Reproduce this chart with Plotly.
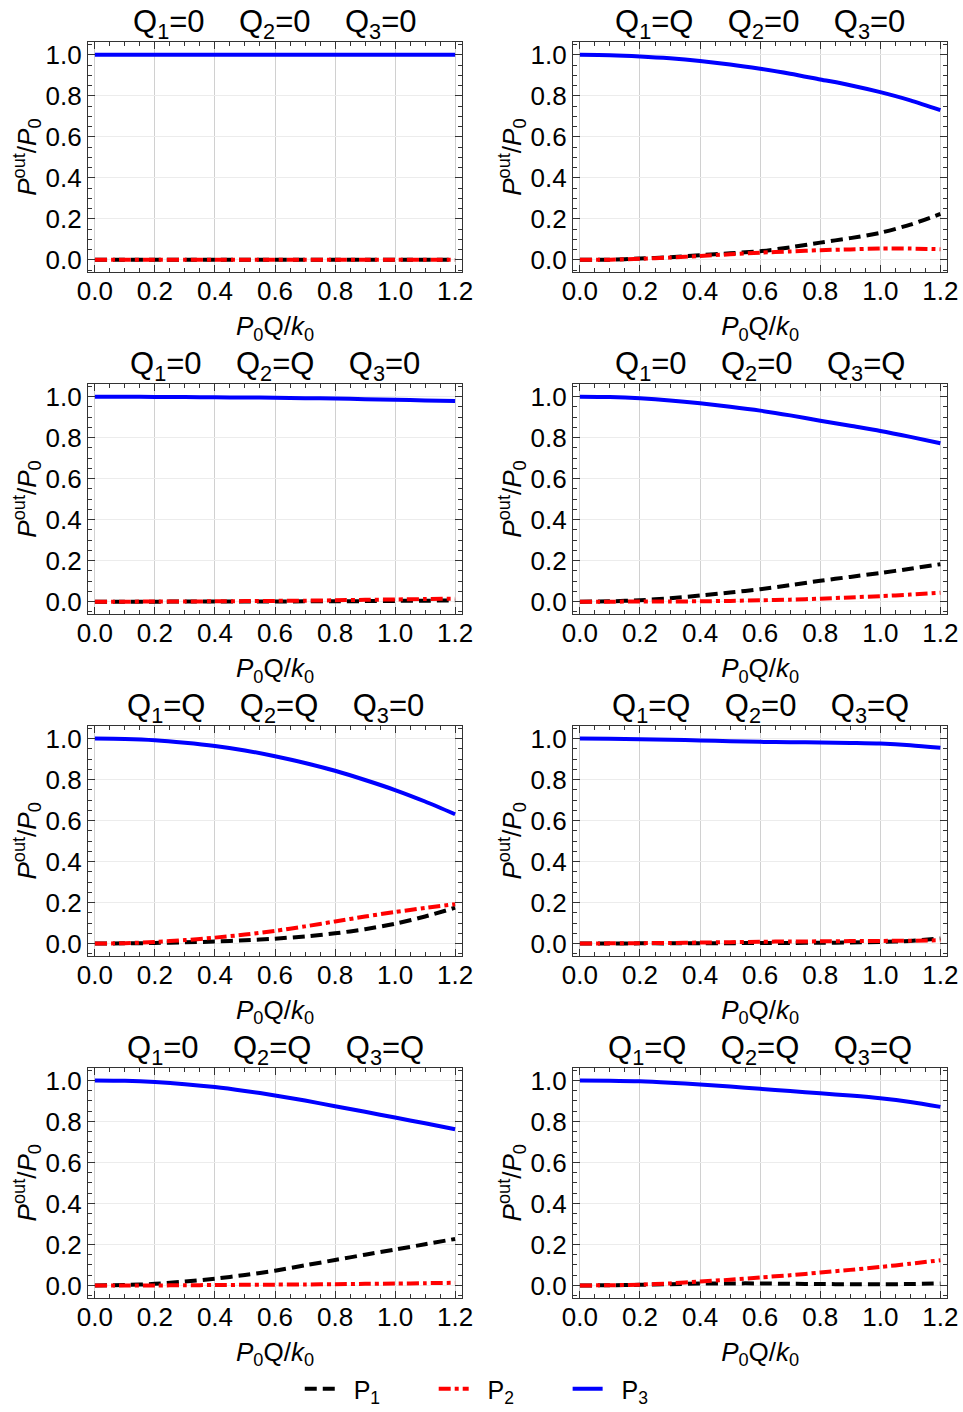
import plotly.graph_objects as go

W, H = 963, 1412

# ---------------- data ----------------
x_vals = [0.0, 0.1, 0.2, 0.3, 0.4, 0.5, 0.6, 0.7, 0.8, 0.9, 1.0, 1.1, 1.2]

x_ticks = [0.0, 0.2, 0.4, 0.6, 0.8, 1.0, 1.2]
x_tick_labels = ["0.0", "0.2", "0.4", "0.6", "0.8", "1.0", "1.2"]
y_ticks = [0.0, 0.2, 0.4, 0.6, 0.8, 1.0]
y_tick_labels = ["0.0", "0.2", "0.4", "0.6", "0.8", "1.0"]

# panel charge settings (Q1, Q2, Q3)
panel_q = [("0", "0", "0"), ("Q", "0", "0"),
           ("0", "Q", "0"), ("0", "0", "Q"),
           ("Q", "Q", "0"), ("Q", "0", "Q"),
           ("0", "Q", "Q"), ("Q", "Q", "Q")]

# Q1=0 Q2=0 Q3=0
p1_000 = [0, 0, 0, 0, 0, 0, 0, 0, 0, 0, 0, 0, 0]
p2_000 = [0, 0, 0, 0, 0, 0, 0, 0, 0, 0, 0, 0, 0]
p3_000 = [1, 1, 1, 1, 1, 1, 1, 1, 1, 1, 1, 1, 1]

# Q1=Q Q2=0 Q3=0
p1_q00 = [0, 0.001, 0.006, 0.013, 0.023, 0.032, 0.042, 0.061, 0.084, 0.106, 0.132, 0.172, 0.224]
p2_q00 = [0, 0.001, 0.005, 0.011, 0.019, 0.027, 0.035, 0.041, 0.047, 0.051, 0.055, 0.055, 0.052]
p3_q00 = [1, 0.998, 0.992, 0.983, 0.970, 0.953, 0.932, 0.908, 0.880, 0.852, 0.818, 0.778, 0.730]

# Q1=0 Q2=Q Q3=0
p1_0q0 = [0, 0, 0, 0.001, 0.001, 0.001, 0.001, 0.002, 0.002, 0.003, 0.004, 0.005, 0.006]
p2_0q0 = [0, 0, 0.001, 0.001, 0.002, 0.003, 0.004, 0.005, 0.007, 0.009, 0.011, 0.013, 0.015]
p3_0q0 = [1, 1, 0.999, 0.998, 0.997, 0.996, 0.995, 0.993, 0.991, 0.988, 0.985, 0.982, 0.979]

# Q1=0 Q2=0 Q3=Q
p1_00q = [0, 0.002, 0.007, 0.017, 0.030, 0.045, 0.061, 0.081, 0.102, 0.121, 0.140, 0.161, 0.183]
p2_00q = [0, 0, 0.001, 0.001, 0.002, 0.004, 0.007, 0.010, 0.015, 0.021, 0.027, 0.035, 0.044]
p3_00q = [1, 0.998, 0.992, 0.982, 0.968, 0.951, 0.932, 0.909, 0.883, 0.858, 0.833, 0.804, 0.773]

# Q1=Q Q2=Q Q3=0
p1_qq0 = [0, 0.001, 0.003, 0.006, 0.010, 0.016, 0.024, 0.035, 0.050, 0.070, 0.097, 0.132, 0.175]
p2_qq0 = [0, 0.002, 0.008, 0.017, 0.029, 0.044, 0.062, 0.084, 0.108, 0.132, 0.154, 0.174, 0.192]
p3_qq0 = [1, 0.998, 0.992, 0.980, 0.964, 0.942, 0.914, 0.881, 0.843, 0.798, 0.749, 0.693, 0.631]

# Q1=Q Q2=0 Q3=Q
p1_q0q = [0, 0, 0.001, 0.001, 0.002, 0.002, 0.003, 0.003, 0.004, 0.005, 0.008, 0.013, 0.025]
p2_q0q = [0, 0.001, 0.002, 0.003, 0.005, 0.007, 0.009, 0.010, 0.011, 0.012, 0.013, 0.014, 0.016]
p3_q0q = [1, 0.999, 0.997, 0.994, 0.991, 0.987, 0.984, 0.982, 0.981, 0.979, 0.976, 0.968, 0.955]

# Q1=0 Q2=Q Q3=Q
p1_0qq = [0, 0.002, 0.008, 0.019, 0.033, 0.051, 0.072, 0.098, 0.124, 0.150, 0.175, 0.201, 0.227]
p2_0qq = [0, 0, 0, 0.001, 0.002, 0.003, 0.004, 0.005, 0.006, 0.008, 0.009, 0.011, 0.013]
p3_0qq = [1, 0.998, 0.992, 0.982, 0.968, 0.949, 0.927, 0.902, 0.874, 0.847, 0.819, 0.791, 0.762]

# Q1=Q Q2=Q Q3=Q
p1_qqq = [0, 0.001, 0.003, 0.006, 0.009, 0.010, 0.010, 0.008, 0.007, 0.006, 0.006, 0.007, 0.010]
p2_qqq = [0, 0.001, 0.004, 0.010, 0.019, 0.028, 0.039, 0.050, 0.063, 0.076, 0.090, 0.106, 0.123]
p3_qqq = [1, 0.999, 0.996, 0.989, 0.980, 0.970, 0.959, 0.948, 0.937, 0.926, 0.913, 0.895, 0.871]

panels = [(p1_000, p2_000, p3_000), (p1_q00, p2_q00, p3_q00),
          (p1_0q0, p2_0q0, p3_0q0), (p1_00q, p2_00q, p3_00q),
          (p1_qq0, p2_qq0, p3_qq0), (p1_q0q, p2_q0q, p3_q0q),
          (p1_0qq, p2_0qq, p3_0qq), (p1_qqq, p2_qqq, p3_qqq)]

series_names = ["P<sub>1</sub>", "P<sub>2</sub>", "P<sub>3</sub>"]
series_colors = ["#000000", "#ff0000", "#0000ff"]
series_dash = ["12px,6px", "12px,4px,4px,4px", "solid"]

# ---------------- layout geometry (pixels) ----------------
FONT = "Liberation Sans, Arial, sans-serif"
col_left = [88.0, 573.0]
col_right = [462.0, 947.3]
row_top0 = 42.3
row_step = 343.33
frame_h = 231.0
NB = "\u00a0"

fig = go.Figure()
layout = {}
annotations = []

for i, (p1, p2, p3) in enumerate(panels):
    r, c = divmod(i, 2)
    n = i + 1
    xname = "x" if n == 1 else f"x{n}"
    yname = "y" if n == 1 else f"y{n}"
    for k, ys in enumerate((p1, p2, p3)):
        fig.add_trace(go.Scatter(
            x=x_vals, y=ys, mode="lines",
            line=dict(color=series_colors[k], width=4, dash=series_dash[k], shape="spline", smoothing=0.8),
            name=NB * 2 + series_names[k] + NB * 7, legendgroup=f"s{k}", showlegend=(i == 0),
            xaxis=xname, yaxis=yname, hoverinfo="skip"))
    top = row_top0 + r * row_step
    bot = top + frame_h
    xdom = [col_left[c] / W, col_right[c] / W]
    ydom = [1 - bot / H, 1 - top / H]
    axcommon = dict(
        showline=True, mirror="allticks", linecolor="#333333", linewidth=1.3,
        ticks="inside", ticklen=7, tickwidth=1.2, tickcolor="#333333",
        zeroline=False, automargin=False,
        tickfont=dict(family=FONT, size=26, color="#000000"),
        minor=dict(ticks="inside", ticklen=4, tickwidth=1, tickcolor="#333333", dtick=0.05, showgrid=False),
    )
    layout["xaxis" if n == 1 else f"xaxis{n}"] = dict(
        axcommon, domain=xdom, anchor=yname, range=[-0.023, 1.223],
        tickmode="array", tickvals=x_ticks, ticktext=x_tick_labels,
        ticklabelstandoff=-4,
        showgrid=True, gridcolor="#d0d0d0", gridwidth=1.2,
        title=dict(text="<i>P</i><sub>0</sub>Q/<i>k</i><sub>0</sub>",
                   font=dict(family=FONT, size=26, color="#000000"), standoff=11),
    )
    layout["yaxis" if n == 1 else f"yaxis{n}"] = dict(
        axcommon, domain=ydom, anchor=xname, range=[-0.06, 1.062],
        tickmode="array", tickvals=y_ticks, ticktext=y_tick_labels,
        showgrid=True, gridcolor="#ececec", gridwidth=1.2,
        title=dict(text="<i>P</i><sup>out</sup>/<i>P</i><sub>0</sub>",
                   font=dict(family=FONT, size=26, color="#000000"), standoff=0),
    )
    q1, q2, q3 = panel_q[i]
    sp = NB * 4
    title = f"Q<sub>1</sub>={q1}{sp}Q<sub>2</sub>={q2}{sp}Q<sub>3</sub>={q3}"
    annotations.append(dict(
        text=title, xref="paper", yref="paper",
        x=(xdom[0] + xdom[1]) / 2, y=1 - (top - 18) / H,
        xanchor="center", yanchor="middle", showarrow=False,
        font=dict(family=FONT, size=31, color="#000000")))

fig.update_layout(**layout)
fig.update_layout(
    width=W, height=H,
    margin=dict(l=0, r=0, t=0, b=0),
    paper_bgcolor="white", plot_bgcolor="white",
    annotations=annotations,
    showlegend=True,
    legend=dict(orientation="h", x=0.52, xanchor="center", y=1 - 1395 / H, yanchor="middle",
                font=dict(family=FONT, size=25, color="#000000"),
                bgcolor="rgba(0,0,0,0)", tracegroupgap=0),
    font=dict(family=FONT),
)

fig.write_html("out.html")
